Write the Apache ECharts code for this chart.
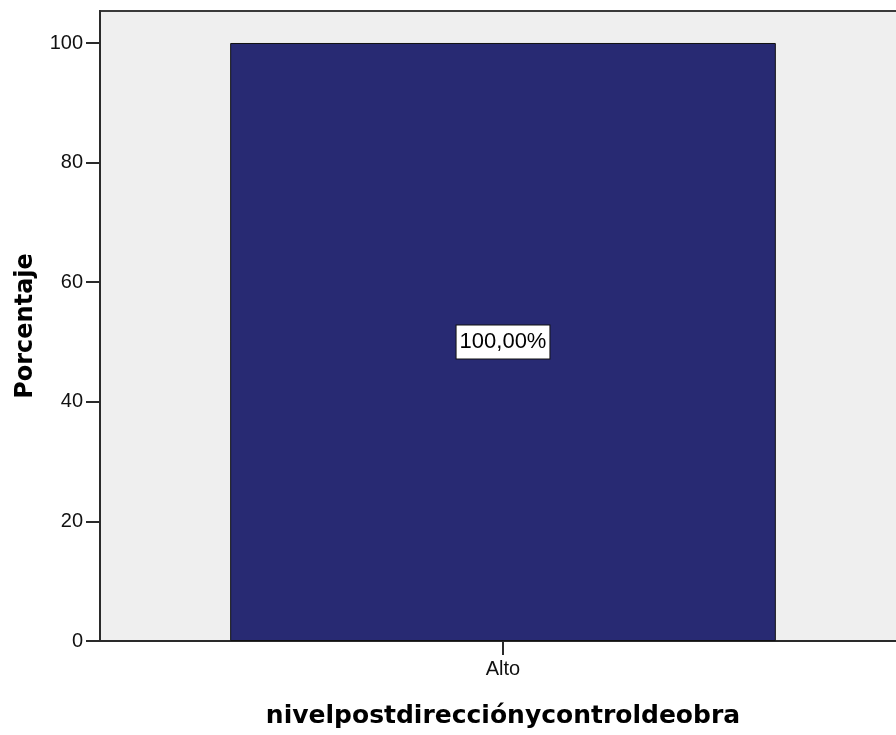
<!DOCTYPE html>
<html>
<head>
<meta charset="utf-8">
<script src="https://cdn.jsdelivr.net/npm/echarts@6/dist/echarts.min.js"></script>
<style>
  html, body { margin: 0; padding: 0; background: #ffffff; }
  #chart { width: 896px; height: 735px; }
</style>
</head>
<body>
<div id="chart"></div>
<script>
// Frequency chart data
const categories = ['Alto'];
const percentages = [100];
const yTicks = [0, 20, 40, 60, 80, 100];

const xTitle = 'nivelpostdirecciónycontroldeobra';
const yTitle = 'Porcentaje';

const chart = echarts.init(document.getElementById('chart'), null, { renderer: 'canvas' });

function pctLabel(v) {
  return v.toFixed(2).replace('.', ',') + '%';
}

chart.setOption({
  animation: false,
  backgroundColor: '#ffffff',
  grid: {
    left: 100,
    top: 11,
    width: 806,
    bottom: 94,
    containLabel: false,
    outerBoundsMode: 'none',
    show: true,
    backgroundColor: '#efefef',
    borderColor: '#3a3a3a',
    borderWidth: 2
  },
  xAxis: {
    type: 'category',
    data: categories,
    name: xTitle,
    nameLocation: 'middle',
    nameGap: 63,
    nameTextStyle: {
      fontFamily: 'DejaVu Sans',
      fontWeight: 'bold',
      fontSize: 25,
      color: '#000000'
    },
    axisLine: { show: true, lineStyle: { color: '#2a2a2a', width: 2 } },
    axisTick: { show: true, alignWithLabel: true, length: 14, lineStyle: { color: '#2a2a2a', width: 2 } },
    axisLabel: {
      fontFamily: 'Liberation Sans',
      fontSize: 20,
      color: '#111111',
      margin: 18
    },
    splitLine: { show: false }
  },
  yAxis: {
    type: 'value',
    min: 0,
    max: 105.35,
    interval: 20,
    name: yTitle,
    nameLocation: 'middle',
    nameGap: 62,
    nameRotate: 90,
    nameTextStyle: {
      fontFamily: 'DejaVu Sans',
      fontWeight: 'bold',
      fontSize: 24,
      color: '#000000'
    },
    axisLine: { show: true, lineStyle: { color: '#2a2a2a', width: 2 } },
    axisTick: {
      show: true,
      length: 14,
      customValues: yTicks,
      lineStyle: { color: '#2a2a2a', width: 2 }
    },
    axisLabel: {
      fontFamily: 'Liberation Sans',
      fontSize: 20,
      color: '#111111',
      margin: 17,
      customValues: yTicks
    },
    splitLine: { show: false }
  },
  series: [{
    type: 'bar',
    data: percentages,
    barWidth: '67.7%',
    itemStyle: {
      color: '#282a73',
      borderColor: '#111111',
      borderWidth: 1
    },
    label: {
      show: true,
      position: 'inside',
      formatter: p => pctLabel(p.value),
      fontFamily: 'Liberation Sans',
      fontSize: 22,
      color: '#000000',
      backgroundColor: '#ffffff',
      borderColor: '#111111',
      borderWidth: 1,
      padding: [6, 3, 5, 3]
    }
  }]
});
</script>
</body>
</html>
